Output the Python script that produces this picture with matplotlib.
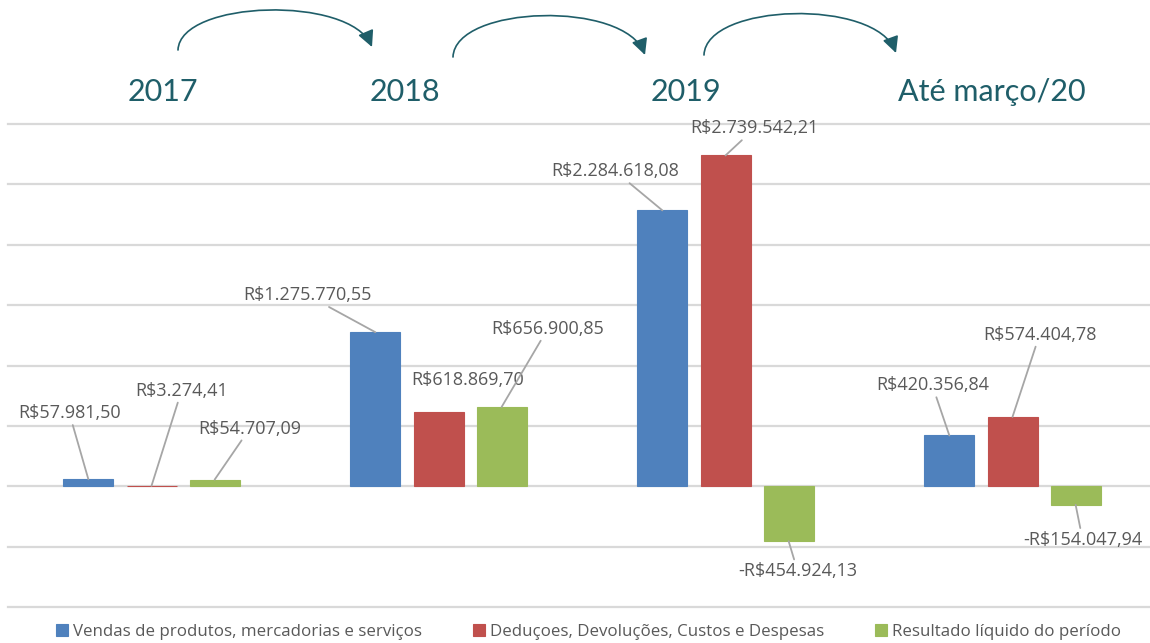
import matplotlib.pyplot as plt
from matplotlib.patches import FancyArrowPatch
from matplotlib.path import Path

# dados
periodos = ["2017", "2018", "2019", "Até março/20"]
series = ["Vendas de produtos, mercadorias e serviços",
          "Deduçoes, Devoluções, Custos e Despesas",
          "Resultado líquido do período"]
vendas = [57981.50, 1275770.55, 2284618.08, 420356.84]
deducoes = [3274.41, 618869.70, 2739542.21, 574404.78]
resultado = [54707.09, 656900.85, -454924.13, -154047.94]
cores = ["#4F81BD", "#C0504D", "#9BBB59"]

# deslocamento dos rótulos (pixels) em relação ao topo da barra
offsets = [
    [(-19, 66), (-68, 37), (-47, 39), (-17, 50)],
    [(30, 95), (29, 32), (29, 27), (27, 82)],
    [(35, 51), (46, 78), (9, -30), (7, -35)],
]
teal = "#1F5E69"


def fmt(v):
    s = f"{abs(v):,.2f}".replace(",", "#").replace(".", ",").replace("#", ".")
    return ("-R$" if v < 0 else "R$") + s


fig = plt.figure(figsize=(11.5, 6.43), dpi=100)
W, H = 1150, 643
ax = fig.add_axes([8 / W, 1 - 607 / H, 1148 / W, (607 - 124) / H])

for y in range(-1000000, 3000001, 500000):
    ax.axhline(y, color="#D9D9D9", lw=1.6, zorder=0, clip_on=False)

step = 0.22
largura = 50 / 287
for i, (vals, cor) in enumerate(zip([vendas, deducoes, resultado], cores)):
    xs = [g + (i - 1) * step for g in range(len(periodos))]
    ax.bar(xs, vals, width=largura, color=cor, edgecolor=cor, lw=0.8,
           label=series[i], zorder=2)
    for j, (x, v) in enumerate(zip(xs, vals)):
        dx, dy = offsets[i][j]
        props = dict(arrowstyle="-", color="#A6A6A6", lw=1.3, shrinkA=0, shrinkB=0)
        if i == 1 and j == 1:
            props = None
        ax.annotate(fmt(v), xy=(x, v), xytext=(dx, dy), textcoords="offset pixels",
                    ha="center", va="center", fontsize=13, color="#595959",
                    family="Open Sans", arrowprops=props, zorder=3)

ax.set_xlim(-0.5, 3.5)
ax.set_ylim(-1000000, 3000000)
ax.axis("off")

# anos no topo
for txt, xp in zip(periodos, [163, 405, 686, 992]):
    fig.text(xp / W, 1 - 92 / H, txt, ha="center", va="center",
             fontsize=22, color=teal, family="Lato")

# setas curvas (curvas de Bezier em pixels)
arcos = [
    [(178, 50), (180, 0), (350, -5), (372, 47)],
    [(453, 57), (455, 5), (625, 0), (645, 55)],
    [(704, 55), (706, 3), (876, -2), (896, 53)],
]
for pts in arcos:
    verts = [(x / W, 1 - y / H) for x, y in pts]
    caminho = Path(verts, [Path.MOVETO, Path.CURVE4, Path.CURVE4, Path.CURVE4])
    seta = FancyArrowPatch(path=caminho, transform=fig.transFigure,
                           arrowstyle="-|>,head_length=0.7,head_width=0.35",
                           mutation_scale=14, color=teal, lw=1.2)
    fig.patches.append(seta)

leg = fig.legend(loc="center", bbox_to_anchor=(0.512, 1 - 632 / H), ncol=3, frameon=False,
                 handlelength=0.7, handleheight=0.7, handletextpad=0.3, columnspacing=3.0,
                 prop={"family": "Open Sans", "size": 12.2})
for t in leg.get_texts():
    t.set_color("#595959")

fig.savefig("out.png", dpi=100)
